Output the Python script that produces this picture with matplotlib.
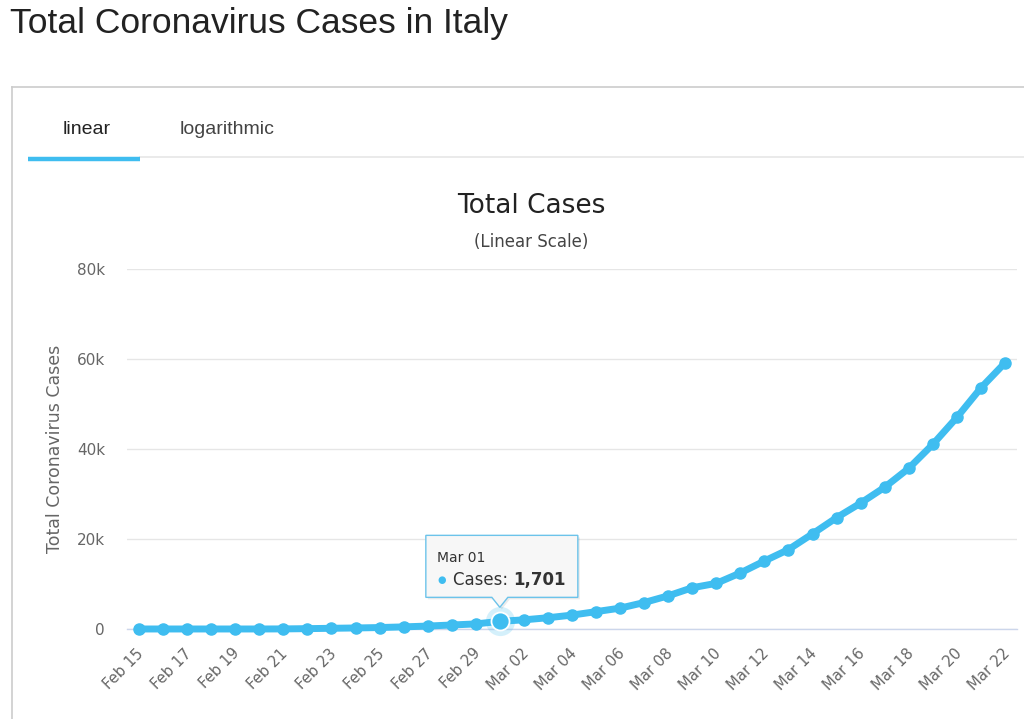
import matplotlib
matplotlib.use("Agg")
import matplotlib.pyplot as plt
import matplotlib.transforms as mtransforms
from matplotlib.patches import Polygon
from matplotlib.lines import Line2D

dates = ["Feb 15", "Feb 16", "Feb 17", "Feb 18", "Feb 19", "Feb 20", "Feb 21", "Feb 22",
         "Feb 23", "Feb 24", "Feb 25", "Feb 26", "Feb 27", "Feb 28", "Feb 29",
         "Mar 01", "Mar 02", "Mar 03", "Mar 04", "Mar 05", "Mar 06", "Mar 07", "Mar 08",
         "Mar 09", "Mar 10", "Mar 11", "Mar 12", "Mar 13", "Mar 14", "Mar 15", "Mar 16",
         "Mar 17", "Mar 18", "Mar 19", "Mar 20", "Mar 21", "Mar 22"]
cases = [3, 3, 3, 3, 3, 3, 20, 79, 157, 229, 323, 470, 655, 889, 1128,
         1701, 2036, 2502, 3089, 3858, 4636, 5883, 7375, 9172, 10149, 12462,
         15113, 17660, 21157, 24747, 27980, 31506, 35713, 41035, 47021, 53578, 59138]
y_ticks = [0, 20000, 40000, 60000, 80000]
y_tick_labels = ["0", "20k", "40k", "60k", "80k"]
highlight = "Mar 01"

W, H = 1024, 719
fig = plt.figure(figsize=(W / 100, H / 100), dpi=100)
fig.patch.set_facecolor("white")

def fx(px):
    return px / W

def fy(py):
    return 1 - py / H

blue = "#3fbdf0"
grid = "#e6e6e6"
txt = "#666666"
chart_font = ["DejaVu Sans"]

# page title
fig.text(fx(10), fy(23), "Total Coronavirus Cases in Italy", fontsize=25.5,
         family=["Liberation Sans"], color="#222222", va="center", ha="left")

# panel frame
fig.add_artist(Line2D([fx(12), fx(12)], [fy(87), fy(719)], color="#cccccc", lw=1.2))
fig.add_artist(Line2D([fx(12), fx(1024)], [fy(87), fy(87)], color="#cccccc", lw=1.2))

# tabs
fig.text(fx(87), fy(129), "linear", fontsize=14, family=["Liberation Sans"],
         color="#222222", ha="center", va="center")
fig.text(fx(227), fy(129), "logarithmic", fontsize=14, family=["Liberation Sans"],
         color="#444444", ha="center", va="center")
fig.add_artist(Line2D([fx(140), fx(1024)], [fy(157), fy(157)], color="#e6e6e6", lw=1.2))
fig.add_artist(Line2D([fx(28), fx(140)], [fy(159), fy(159)], color=blue, lw=3.2,
                      solid_capstyle="butt"))

# chart titles
fig.text(fx(531), fy(206), "Total Cases", fontsize=19, family=chart_font,
         color="#222222", ha="center", va="center")
fig.text(fx(531), fy(242), "(Linear Scale)", fontsize=12, family=chart_font,
         color="#444444", ha="center", va="center")

# axes
ax = fig.add_axes([fx(127), fy(629), fx(1017) - fx(127), fy(269) - fy(629)])
x = list(range(len(dates)))
ax.set_xlim(-0.5, len(dates) - 0.5)
ax.set_ylim(0, 80000)
for s in ["top", "right", "left"]:
    ax.spines[s].set_visible(False)
ax.spines["bottom"].set_color("#ccd6eb")
ax.spines["bottom"].set_linewidth(1.0)
ax.set_yticks(y_ticks)
ax.set_yticklabels(y_tick_labels, family=chart_font, fontsize=11, color=txt)
ax.tick_params(axis="y", length=0, pad=15.8)
ax.grid(axis="y", color=grid, lw=1.0)
ax.set_axisbelow(True)
ax.set_xticks(x[::2])
ax.set_xticklabels(dates[::2], rotation=45, ha="right", rotation_mode="anchor",
                   family=chart_font, fontsize=10.7, color=txt)
ax.tick_params(axis="x", length=0, pad=12)
for lbl in ax.get_xticklabels():
    lbl.set_transform(lbl.get_transform() + mtransforms.ScaledTranslation(-3 / 100, 0, fig.dpi_scale_trans))
ax.set_ylabel("Total Coronavirus Cases", family=chart_font, fontsize=12.5, color=txt)
ax.yaxis.set_label_coords(fx(64), 0.5,
                          transform=mtransforms.blended_transform_factory(fig.transFigure, ax.transAxes))

ax.plot(x, cases, color=blue, lw=5, marker="o", ms=8, mec=blue, mfc=blue,
        solid_capstyle="round", solid_joinstyle="round", clip_on=False, zorder=3)

# highlighted point
hi = dates.index(highlight)
ax.plot([x[hi]], [cases[hi]], marker="o", ms=21, color=blue, alpha=0.22, mew=0,
        clip_on=False, zorder=4)
ax.plot([x[hi]], [cases[hi]], marker="o", ms=13, mfc=blue, mec="white", mew=1.3,
        clip_on=False, zorder=5)

# tooltip
tr = ax.transData
px0, py0 = tr.transform((x[hi], cases[hi]))
verts_pix = [(-74, 86), (78, 86), (78, 24), (8, 24), (0, 14), (-8, 24), (-74, 24)]
inv = fig.transFigure.inverted()
verts = [inv.transform((px0 + dx, py0 + dy)) for dx, dy in verts_pix]
shadow = [(vx + 2 / W, vy - 2 / H) for vx, vy in verts]
fig.add_artist(Polygon(shadow, closed=True, facecolor="#000000", alpha=0.08,
                       edgecolor="none", zorder=6))
fig.add_artist(Polygon(verts, closed=True, facecolor="#f7f7f7", edgecolor="#6cc3ea",
                       lw=1.0, zorder=7))
tx, ty = inv.transform((px0 - 63, py0 + 63))
fig.text(tx, ty, highlight, fontsize=10, family=chart_font, color="#333333",
         ha="left", va="center", zorder=8)
bx, by = inv.transform((px0 - 58, py0 + 41))
fig.text(bx, by, "\u25cf", fontsize=7, family=chart_font, color=blue,
         ha="center", va="center", zorder=8)
cx, cy = inv.transform((px0 - 47, py0 + 41))
t1 = fig.text(cx, cy, "Cases: ", fontsize=12, family=chart_font, color="#333333",
              ha="left", va="center", zorder=8)
fig.canvas.draw()
bb = t1.get_window_extent()
dx_, _ = inv.transform((bb.x1, 0))
fig.text(dx_, cy, f"{cases[hi]:,}", fontsize=12, family=chart_font, weight="bold",
         color="#333333", ha="left", va="center", zorder=8)

fig.savefig("out.png", dpi=100, facecolor="white")
